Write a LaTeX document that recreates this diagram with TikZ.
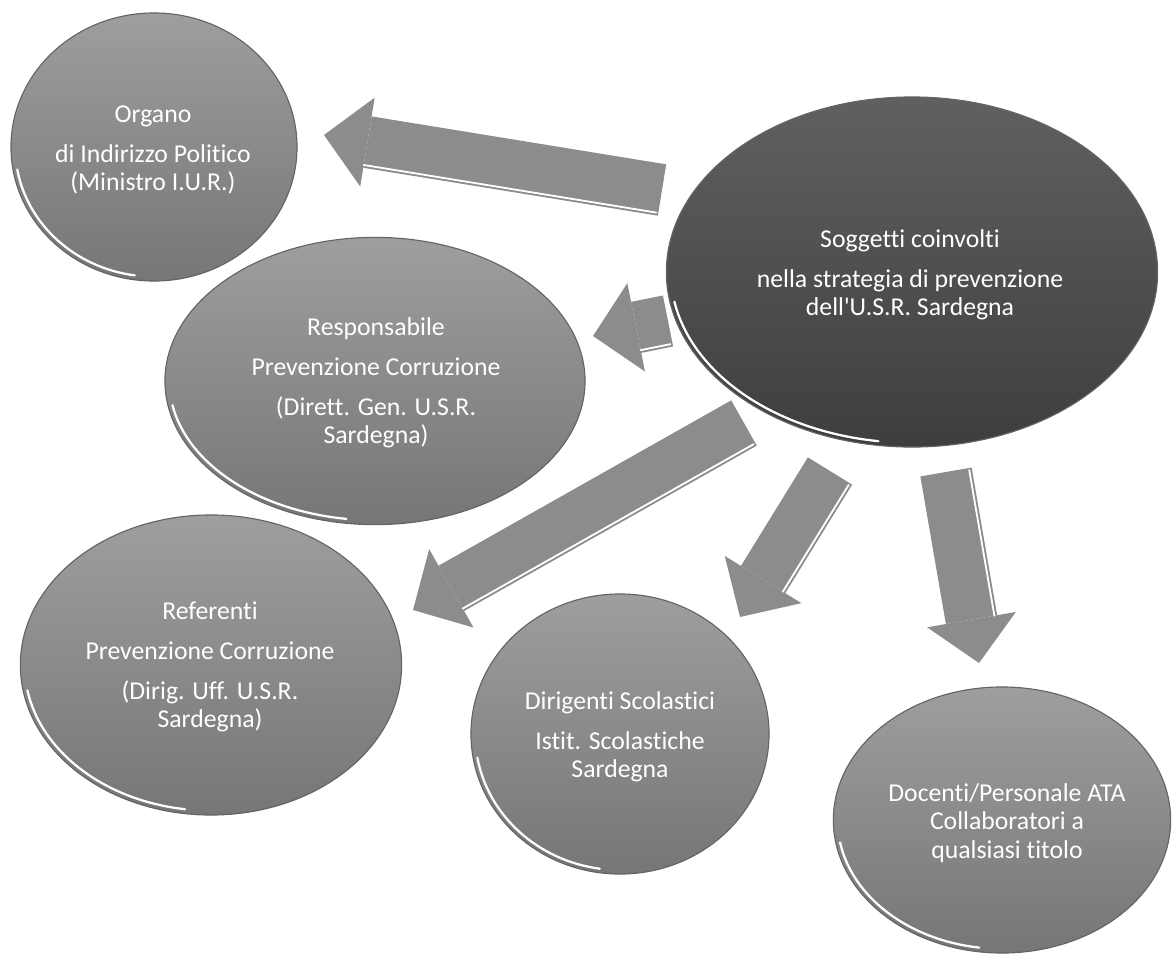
\documentclass[tikz,border=0pt]{standalone}
\usepackage{fontspec}
\setmainfont{Carlito}[Ligatures={CommonOff,TeXOff}]
\usepackage{tikz}
\usetikzlibrary{shapes.geometric,arrows.meta,calc,positioning}

\definecolor{bubtop}{RGB}{158,158,158}
\definecolor{bubbot}{RGB}{118,118,118}
\definecolor{darktop}{RGB}{96,96,96}
\definecolor{darkbot}{RGB}{62,62,62}
\definecolor{bubline}{RGB}{100,100,100}
\definecolor{arrgray}{RGB}{140,140,140}

\newcommand{\bubshine}[3]{\draw[shine] (#1.center) ++(190:#2 and #3) arc[start angle=190,end angle=262,x radius=#2,y radius=#3];}

\begin{document}
\begin{tikzpicture}[x=0.025cm,y=-0.025cm,
	bubble/.style={ellipse,draw=bubline,line width=0.8pt,top color=bubtop,bottom color=bubbot,inner sep=0pt},
	darkbubble/.style={bubble,top color=darktop,bottom color=darkbot},
	btext/.style={text=white,align=center,font=\fontsize{18.3}{20.3}\selectfont},
	blockarr/.style={draw=arrgray,line width=1.3cm,-{Triangle[length=1.1cm,width=2.25cm,line width=0pt]}},
	shine/.style={draw=white,line width=1.6pt,line cap=round},
	shineline/.style={shine,line width=1.3pt,shorten >=1.1cm,shorten <=0.05cm}]
		\useasboundingbox (0,0) rectangle (1172,954);
		% arrow ends
		\coordinate (t1) at (662,190); \coordinate (h1) at (324,135);
		\coordinate (t2) at (668,321); \coordinate (h2) at (593,336);
		\coordinate (t3) at (744,423); \coordinate (h3) at (413,610);
		\coordinate (t4) at (830,471); \coordinate (h4) at (740,617);
		\coordinate (t5) at (946,472); \coordinate (h5) at (979,663);
		\draw[blockarr] (t1) -- (h1);
		\draw[blockarr] (t2) -- (h2);
		\draw[blockarr] (t3) -- (h3);
		\draw[blockarr] (t4) -- (h4);
		\draw[blockarr] (t5) -- (h5);
		\draw[shineline] ($(t1)!0.58cm!90:(h1)$) -- ($(h1)!0.58cm!-90:(t1)$);
		\draw[shineline] ($(t2)!0.58cm!90:(h2)$) -- ($(h2)!0.58cm!-90:(t2)$);
		\draw[shineline] ($(t3)!0.58cm!90:(h3)$) -- ($(h3)!0.58cm!-90:(t3)$);
		\draw[shineline] ($(t4)!0.58cm!90:(h4)$) -- ($(h4)!0.58cm!-90:(t4)$);
		\draw[shineline] ($(t5)!0.58cm!90:(h5)$) -- ($(h5)!0.58cm!-90:(t5)$);
		% bubbles
		\node [bubble,minimum width=7.15cm,minimum height=6.7cm] (org) at (154,147) {};
		\node [darkbubble,minimum width=12.28cm,minimum height=8.75cm] (sog) at (912,272) {};
		\node [bubble,minimum width=10.5cm,minimum height=7.18cm] (resp) at (375,381) {};
		\node [bubble,minimum width=9.53cm,minimum height=7.5cm] (ref) at (211,665) {};
		\node [bubble,minimum width=7.45cm,minimum height=7.0cm] (dir) at (620,734) {};
		\node [bubble,minimum width=8.43cm,minimum height=6.65cm] (doc) at (1002,820) {};
		\bubshine{org}{3.47cm}{3.24cm}
		\bubshine{sog}{6.03cm}{4.27cm}
		\bubshine{resp}{5.14cm}{3.48cm}
		\bubshine{ref}{4.66cm}{3.64cm}
		\bubshine{dir}{3.62cm}{3.4cm}
		\bubshine{doc}{4.11cm}{3.22cm}
		% texts
		\node [btext] (orgtxt) at (153,150) {Organo\\[8pt]di Indirizzo Politico\\(Ministro I.U.R.)};
		\node [btext] (sogtxt) at (910,275) {Soggetti coinvolti\\[8pt]nella strategia di prevenzione\\dell'U.S.R. Sardegna};
		\node [btext] (resptxt) at (376,383) {Responsabile\\[8pt]Prevenzione Corruzione\\[8pt](Dirett. Gen. U.S.R.\\Sardegna)};
		\node [btext] (reftxt) at (210,667) {Referenti\\[8pt]Prevenzione Corruzione\\[8pt](Dirig. Uff. U.S.R.\\Sardegna)};
		\node [btext] (dirtxt) at (620,737) {Dirigenti Scolastici\\[8pt]Istit. Scolastiche\\Sardegna};
		\node [btext] (doctxt) at (1007,823) {Docenti/Personale ATA\\Collaboratori a\\qualsiasi titolo};
	\end{tikzpicture}
\end{document}
